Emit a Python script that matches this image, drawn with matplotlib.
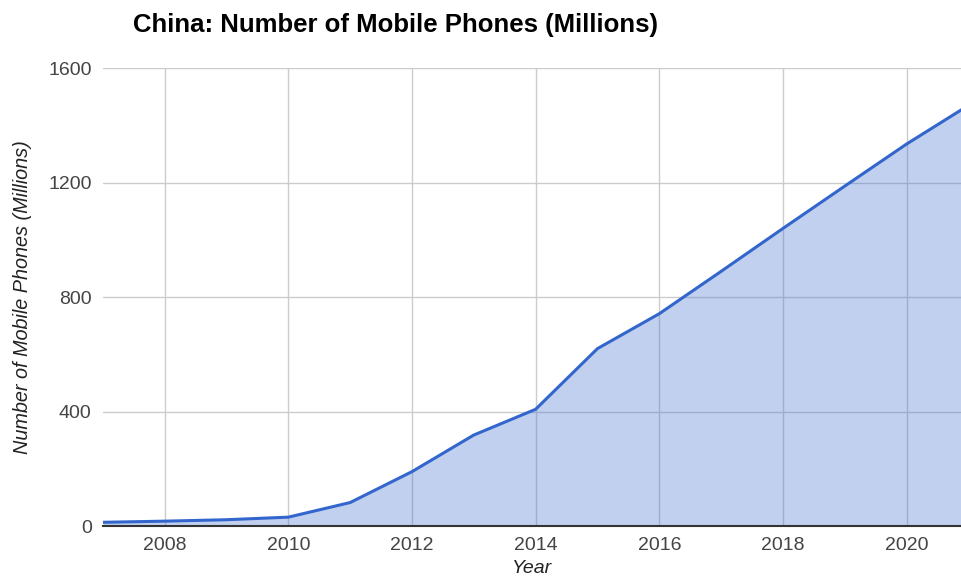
import matplotlib.pyplot as plt

# China mobile phone numbers (millions)
years = [2007, 2008, 2009, 2010, 2011, 2012, 2013, 2014, 2015, 2016, 2017, 2018, 2019, 2020, 2021]
phones = [13, 17, 22, 31, 82, 190, 318, 408, 620, 742, 890, 1040, 1188, 1335, 1470]

xticks = [2008, 2010, 2012, 2014, 2016, 2018, 2020]
yticks = [0, 400, 800, 1200, 1600]

plt.rcParams['font.family'] = ['Liberation Sans', 'DejaVu Sans']

fig = plt.figure(figsize=(9.61, 5.88), dpi=100)
ax = fig.add_axes([0.107, 0.1054, 0.893, 0.7786])

line_color = '#3366cc'
ax.fill_between(years, phones, 0, color=line_color, alpha=0.3, linewidth=0, zorder=2)
ax.plot(years, phones, color=line_color, linewidth=2.2, zorder=3)

ax.set_xlim(2007, 2020.88)
ax.set_ylim(0, 1600)
ax.set_xticks(xticks)
ax.set_yticks(yticks)
ax.set_xticklabels([str(x) for x in xticks])
ax.set_yticklabels([str(y) for y in yticks])

ax.grid(True, color='#cccccc', linewidth=1, zorder=1)
for side in ['top', 'right', 'left']:
    ax.spines[side].set_visible(False)
ax.spines['bottom'].set_color('#333333')
ax.spines['bottom'].set_linewidth(1.5)
ax.spines['bottom'].set_zorder(4)
ax.tick_params(length=0, labelsize=14, colors='#444444', pad=8)

ax.set_xlabel('Year', fontsize=14, style='italic', color='#222222', labelpad=4)
ax.set_ylabel('Number of Mobile Phones (Millions)', fontsize=14.3, style='italic',
              color='#222222', labelpad=12)

fig.text(0.138, 0.958, 'China: Number of Mobile Phones (Millions)', fontsize=18.5,
         fontweight='bold', va='center', ha='left', color='#000000')

fig.savefig('out.png', dpi=100)
